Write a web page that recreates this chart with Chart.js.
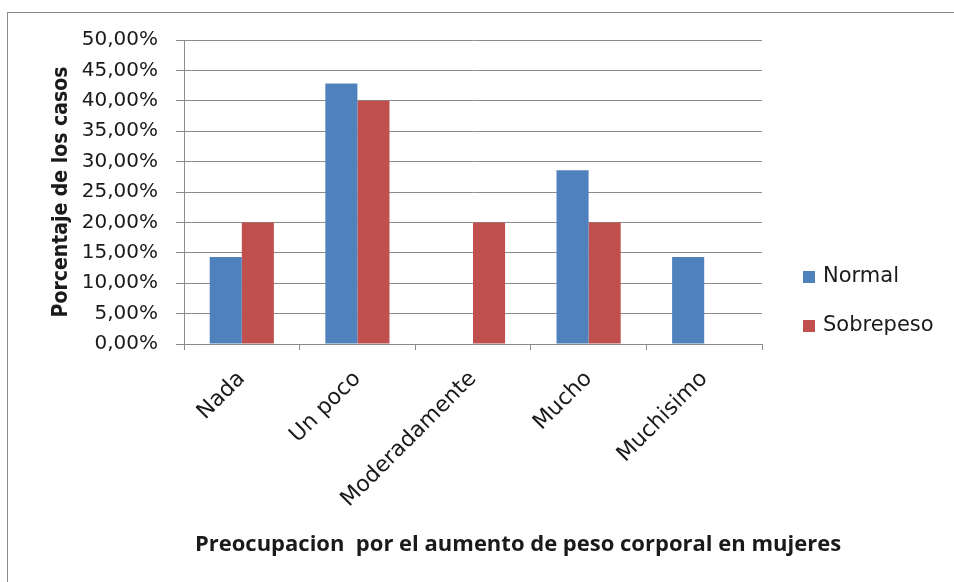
<!DOCTYPE html>
<html lang="es">
<head>
    <meta charset="UTF-8">
    <title>Preocupacion por el aumento de peso</title>
    <script src="https://cdn.jsdelivr.net/npm/chart.js"></script>
    <style>
        html, body {
            margin: 0;
            padding: 0;
            background: #ffffff;
            overflow: hidden;
        }
        /* thin frame around the chart object */
        .frame {
            position: absolute;
            left: 7px;
            top: 12px;
            width: 1000px;
            height: 700px;
            border: 1px solid #8c8c8c;
        }
        .wrap {
            position: absolute;
            left: 0;
            top: 0;
            width: 954px;
            height: 582px;
        }
    </style>
</head>
<body>
    <div class="frame"></div>
    <div class="wrap">
        <canvas id="myChart" width="954" height="582"></canvas>
    </div>

    <script>
        // categories and series (percent of cases)
        var categorias = ['Nada', 'Un poco', 'Moderadamente', 'Mucho', 'Muchisimo'];
        var normal = [14.29, 42.86, 0, 28.57, 14.29];
        var sobrepeso = [20, 40, 20, 20, 0];
        var seriesNames = ['Normal', 'Sobrepeso'];
        var seriesColors = ['#4f81bd', '#c0504d'];

        var tituloY = 'Porcentaje de los casos';
        var tituloX = 'Preocupacion  por el aumento de peso corporal en mujeres';

        var gridColor = '#8c8c8c';
        var textColor = '#1a1a1a';

        // legend on the right and the x axis title, drawn by hand
        var sideText = {
            id: 'sideText',
            afterDraw: function(chart) {
                var ctx = chart.ctx;
                ctx.save();
                ctx.font = '21px "DejaVu Sans"';
                ctx.textBaseline = 'middle';
                ctx.textAlign = 'left';
                var ys = [277, 326];
                chart.data.datasets.forEach(function(ds, i) {
                    ctx.fillStyle = ds.backgroundColor;
                    ctx.fillRect(803, ys[i] - 6, 12, 12);
                    ctx.fillStyle = textColor;
                    ctx.fillText(ds.label, 823, ys[i]);
                });
                ctx.font = 'bold 22px "Open Sans"';
                ctx.textAlign = 'center';
                ctx.fillText(tituloX, 518, 545);
                ctx.restore();
            }
        };

        var ctx = document.getElementById('myChart').getContext('2d');
        var myChart = new Chart(ctx, {
            type: 'bar',
            data: {
                labels: categorias,
                datasets: [
                    { label: seriesNames[0], data: normal, backgroundColor: seriesColors[0] },
                    { label: seriesNames[1], data: sobrepeso, backgroundColor: seriesColors[1] }
                ]
            },
            options: {
                responsive: false,
                animation: false,
                layout: {
                    padding: { left: 46, right: 192, top: 40, bottom: 0 }
                },
                datasets: {
                    bar: { categoryPercentage: 0.555, barPercentage: 1.0 }
                },
                plugins: {
                    legend: { display: false },
                    tooltip: { enabled: false }
                },
                scales: {
                    x: {
                        afterFit: function(scale) { scale.height = 238; },
                        grid: {
                            display: true,
                            drawOnChartArea: false,
                            offset: true,
                            color: gridColor,
                            tickLength: 6
                        },
                        border: { color: gridColor },
                        ticks: {
                            color: textColor,
                            font: { family: 'DejaVu Sans', size: 22 },
                            minRotation: 45,
                            maxRotation: 45,
                            padding: 16
                        }
                    },
                    y: {
                        min: 0,
                        max: 50,
                        afterFit: function(scale) { scale.width = 138; },
                        grid: {
                            color: gridColor,
                            tickLength: 8
                        },
                        border: { color: gridColor },
                        title: {
                            display: true,
                            text: tituloY,
                            color: textColor,
                            font: { family: 'DejaVu Sans Condensed', size: 21, weight: 'bold' },
                            padding: { top: 3, bottom: 0 }
                        },
                        ticks: {
                            stepSize: 5,
                            color: textColor,
                            font: { family: 'DejaVu Sans', size: 20 },
                            padding: 18,
                            callback: function(v) {
                                return v.toFixed(2).replace('.', ',') + '%';
                            }
                        }
                    }
                }
            },
            plugins: [sideText]
        });
    </script>
</body>
</html>
